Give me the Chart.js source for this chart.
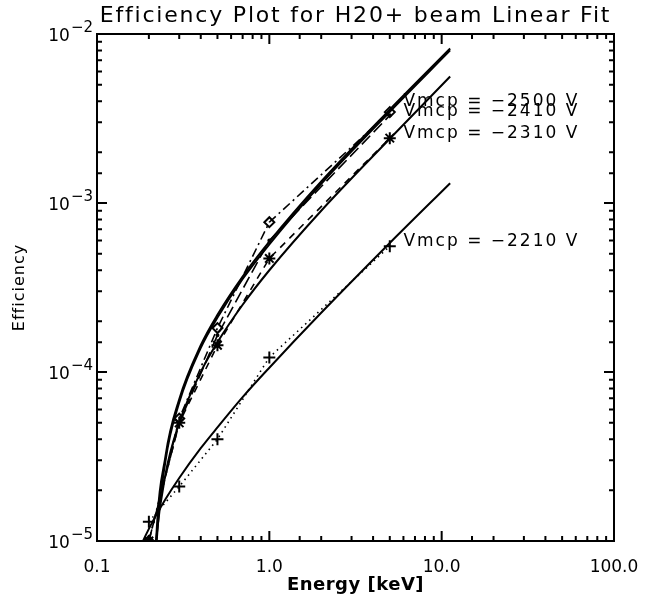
<!DOCTYPE html>
<html>
<head>
<meta charset="utf-8">
<script src="https://cdn.jsdelivr.net/npm/chart.js@4.4.1/dist/chart.umd.min.js"></script>
<style>
  html, body { margin: 0; padding: 0; background: #fff; }
</style>
</head>
<body>
<canvas id="effChart" width="645" height="596"></canvas>
<script>
// --- data ---
const dataEnergy = [0.2, 0.3, 0.5, 1.0, 5.0];
const eff2500 = [1.0e-5, 5.3e-5, 1.82e-4, 7.7e-4, 3.45e-3];
const eff2410 = [1.0e-5, 5.0e-5, 1.65e-4, 6.0e-4, 3.3e-3];
const eff2310 = [1.0e-5, 5.0e-5, 1.44e-4, 4.7e-4, 2.42e-3];
const eff2210 = [1.3e-5, 2.1e-5, 4.0e-5, 1.22e-4, 5.55e-4];

// linear fits, sampled along the drawn curves
const fitE2500 = [0.21, 0.22, 0.25, 0.3, 0.4, 0.5, 0.7, 1, 2, 5, 11.2];
const fit2500 = [2.2e-6, 9.7e-6, 3.2e-5, 6.9e-5, 1.44e-4, 2.18e-4, 3.67e-4, 5.9e-4, 1.34e-3, 3.57e-3, 8.2e-3];
const fitE2410 = [0.212, 0.22, 0.25, 0.3, 0.4, 0.5, 0.7, 1, 2, 5, 11.2];
const fit2410 = [3.0e-6, 8.5e-6, 3.0e-5, 6.6e-5, 1.39e-4, 2.1e-4, 3.55e-4, 5.7e-4, 1.3e-3, 3.47e-3, 8.0e-3];
const fitE2310 = [0.205, 0.21, 0.22, 0.25, 0.3, 0.4, 0.5, 0.7, 1, 2, 5, 11.2];
const fit2310 = [2.5e-6, 5e-6, 1e-5, 2.5e-5, 5e-5, 1e-4, 1.5e-4, 2.5e-4, 4.0e-4, 9.0e-4, 2.4e-3, 5.6e-3];
const fitE2210 = [0.15, 0.18, 0.2, 0.25, 0.3, 0.4, 0.5, 0.7, 1, 2, 5, 11.2];
const fit2210 = [5.9e-6, 9.4e-6, 1.18e-5, 1.77e-5, 2.36e-5, 3.54e-5, 4.7e-5, 7.1e-5, 1.06e-4, 2.24e-4, 5.8e-4, 1.31e-3];

const labelTexts = ['Vmcp = \u22122500 V', 'Vmcp = \u22122410 V', 'Vmcp = \u22122310 V', 'Vmcp = \u22122210 V'];
const labelEnergy = 6;
const labelEff = [3.73e-3, 3.25e-3, 2.42e-3, 5.55e-4];

const xTickValues = [0.1, 1, 10, 100];
const xTickLabels = ['0.1', '1.0', '10.0', '100.0'];
const yTickValues = [1e-5, 1e-4, 1e-3, 1e-2];
const yTickExponents = ['\u22125', '\u22124', '\u22123', '\u22122'];

const FONT = "'DejaVu Sans', sans-serif";

const toPoints = (xs, ys) => xs.map((x, i) => ({ x, y: ys[i] }));
const isMajor = v => Math.abs(Math.log10(v) - Math.round(Math.log10(v))) < 1e-6;

const fitLine = (xs, ys) => ({
    data: toPoints(xs, ys),
    borderColor: '#000',
    borderWidth: 2,
    pointRadius: 0,
    cubicInterpolationMode: 'monotone',
    fill: false
});

const dataLine = (ys, style, dash, radius) => ({
    data: toPoints(dataEnergy, ys),
    borderColor: '#000',
    borderWidth: 1.6,
    borderDash: dash,
    pointStyle: style,
    pointRadius: radius,
    pointBorderColor: '#000',
    pointBackgroundColor: 'rgba(0,0,0,0)',
    pointBorderWidth: 2,
    fill: false
});

// frame, inward ticks, y labels with exponents, titles, annotations
const idlFrame = {
    id: 'idlFrame',
    afterDraw(chart) {
        const { ctx, chartArea: a, scales: { x, y } } = chart;
        ctx.save();
        ctx.strokeStyle = '#000';
        ctx.fillStyle = '#000';
        ctx.lineWidth = 2;
        ctx.strokeRect(a.left, a.top, a.right - a.left, a.bottom - a.top);

        ctx.beginPath();
        x.ticks.forEach(t => {
            const px = x.getPixelForValue(t.value);
            const len = isMajor(t.value) ? 10 : 5;
            ctx.moveTo(px, a.bottom); ctx.lineTo(px, a.bottom - len);
            ctx.moveTo(px, a.top); ctx.lineTo(px, a.top + len);
        });
        y.ticks.forEach(t => {
            const py = y.getPixelForValue(t.value);
            const len = isMajor(t.value) ? 10 : 5;
            ctx.moveTo(a.left, py); ctx.lineTo(a.left + len, py);
            ctx.moveTo(a.right, py); ctx.lineTo(a.right - len, py);
        });
        ctx.stroke();

        // y tick labels: 10 with a raised exponent
        yTickValues.forEach((v, i) => {
            const py = y.getPixelForValue(v);
            ctx.font = `15px ${FONT}`;
            const expW = ctx.measureText(yTickExponents[i]).width;
            ctx.textAlign = 'right';
            ctx.textBaseline = 'alphabetic';
            ctx.fillText(yTickExponents[i], a.left - 4, py - 2);
            ctx.font = `17px ${FONT}`;
            ctx.fillText('10', a.left - 5 - expW, py + 7);
        });

        // title
        ctx.font = `22px ${FONT}`;
        ctx.textAlign = 'center';
        ctx.textBaseline = 'alphabetic';
        ctx.letterSpacing = '1.8px';
        ctx.fillText('Efficiency Plot for H20+ beam Linear Fit', (a.left + a.right) / 2, 22);

        // x title
        ctx.font = `bold 18px ${FONT}`;
        ctx.letterSpacing = '0.5px';
        ctx.fillText('Energy [keV]', (a.left + a.right) / 2, 590);

        // y title
        ctx.save();
        ctx.translate(20, (a.top + a.bottom) / 2);
        ctx.rotate(-Math.PI / 2);
        ctx.font = `16px ${FONT}`;
        ctx.letterSpacing = '1px';
        ctx.textBaseline = 'middle';
        ctx.fillText('Efficiency', 0, 0);
        ctx.restore();

        // voltage labels
        ctx.font = `17px ${FONT}`;
        ctx.textAlign = 'left';
        ctx.letterSpacing = '2px';
        labelTexts.forEach((txt, i) => {
            ctx.fillText(txt, x.getPixelForValue(labelEnergy), y.getPixelForValue(labelEff[i]));
        });
        ctx.restore();
    }
};

new Chart(document.getElementById('effChart'), {
    type: 'line',
    data: {
        datasets: [
            fitLine(fitE2500, fit2500),
            fitLine(fitE2410, fit2410),
            fitLine(fitE2310, fit2310),
            fitLine(fitE2210, fit2210),
            dataLine(eff2500, 'rectRot', [9, 4, 2, 4], 5),
            dataLine(eff2410, 'circle', [12, 5], 1),
            dataLine(eff2310, 'star', [7, 6], 6),
            dataLine(eff2210, 'cross', [1.5, 4], 6)
        ]
    },
    options: {
        responsive: false,
        animation: false,
        layout: { padding: { left: 0, right: 31, top: 34, bottom: 0 } },
        plugins: { legend: { display: false }, tooltip: { enabled: false } },
        scales: {
            x: {
                type: 'logarithmic',
                min: 0.1,
                max: 100,
                grid: { display: false, drawTicks: false },
                border: { display: false },
                afterFit: s => { s.height = 55; s.paddingLeft = 0; s.paddingRight = 0; },
                ticks: {
                    autoSkip: false,
                    maxRotation: 0,
                    padding: 16,
                    color: '#000',
                    font: { family: FONT, size: 17 },
                    callback: v => {
                        const i = xTickValues.findIndex(t => Math.abs(Math.log10(t) - Math.log10(v)) < 1e-6);
                        return i >= 0 ? xTickLabels[i] : '';
                    }
                }
            },
            y: {
                type: 'logarithmic',
                min: 1e-5,
                max: 1e-2,
                grid: { display: false, drawTicks: false },
                border: { display: false },
                afterFit: s => { s.width = 97; s.paddingTop = 0; s.paddingBottom = 0; },
                ticks: { autoSkip: false, callback: () => '' }
            }
        }
    },
    plugins: [idlFrame]
});
</script>
</body>
</html>
